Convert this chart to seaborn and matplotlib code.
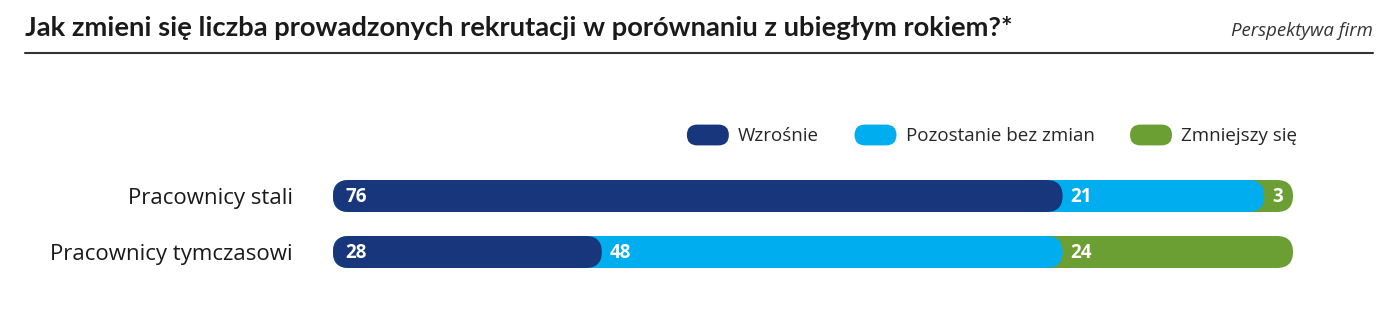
import matplotlib
matplotlib.use("Agg")
import matplotlib.pyplot as plt
from matplotlib.patches import FancyBboxPatch, Patch
from matplotlib.legend_handler import HandlerPatch
from matplotlib.lines import Line2D
import seaborn as sns
import pandas as pd

# data
categories = ["Pracownicy stali", "Pracownicy tymczasowi"]
series = ["Wzrośnie", "Pozostanie bez zmian", "Zmniejszy się"]
wzrosnie = [76, 28]
bez_zmian = [21, 48]
zmniejszy = [3, 24]
colors = ["#17367c", "#00aeef", "#6b9e33"]

title = "Jak zmieni się liczba prowadzonych rekrutacji w porównaniu z ubiegłym rokiem?*"
subtitle = "Perspektywa firm"

W, H, DPI = 13.98, 3.11, 100
FONT = ["Open Sans", "DejaVu Sans"]

sns.set_theme(style="white")
plt.rcParams["font.family"] = FONT

rows = []
for i, cat in enumerate(categories):
    vals = [wzrosnie[i], bez_zmian[i], zmniejszy[i]]
    cum = 0
    for s, v in zip(series, vals):
        rows.append({"kategoria": cat, "seria": s, "wartosc": v, "start": cum, "koniec": cum + v})
        cum += v
df = pd.DataFrame(rows)

fig = plt.figure(figsize=(W, H), dpi=DPI)
# axes geometry in pixels: x 333..1293, y 168..280 (from top)
ax = fig.add_axes([333 / 1398, (311 - 280) / 311, 960 / 1398, 112 / 311])

bar_h = 32 / 56
# draw cumulative bars from the back (last series) to the front
for s, c in reversed(list(zip(series, colors))):
    sub = df[df["seria"] == s]
    sns.barplot(data=sub, x="koniec", y="kategoria", order=categories, color=c,
                saturation=1, width=bar_h, linewidth=0, orient="h", ax=ax)

ax.set_xlim(0, 100)
ax.set_ylim(1.5, -0.5)

# rounded ends
px_per_x = 960 / 100
px_per_y = 56
r_x = 16 / px_per_x
aspect = (16 / px_per_y) / r_x
old = list(ax.patches)
for p in old:
    x, y = p.get_x(), p.get_y()
    w, h = p.get_width(), p.get_height()
    fc = p.get_facecolor()
    z = p.get_zorder()
    p.remove()
    ax.add_patch(FancyBboxPatch((x, y), w, h,
                                boxstyle=f"round,pad=0,rounding_size={r_x}",
                                mutation_aspect=aspect, fc=fc, ec="none", zorder=z))

# value labels
for _, r in df.iterrows():
    yi = categories.index(r["kategoria"])
    x0 = r["start"] + (12 / px_per_x if r["start"] == 0 else 8 / px_per_x)
    ax.text(x0, yi + 0.02, f"{r['wartosc']}", color="white", fontsize=13.5, fontweight="bold",
            va="center", ha="left", zorder=10)

ax.set_xlabel("")
ax.set_ylabel("")
ax.set_xticks([])
ax.set_yticks(range(len(categories)))
ax.set_yticklabels(categories, fontsize=16, color="#1a1a1a")
ax.tick_params(axis="y", length=0, pad=29)
for sp in ax.spines.values():
    sp.set_visible(False)


class RoundHandler(HandlerPatch):
    def create_artists(self, legend, orig_handle, xdescent, ydescent, width, height, fontsize, trans):
        p = FancyBboxPatch((-xdescent, -ydescent), width, height,
                           boxstyle=f"round,pad=0,rounding_size={height / 2}",
                           fc=orig_handle.get_facecolor(), ec="none", transform=trans)
        return [p]


handles = [Patch(facecolor=c, label=s) for s, c in zip(series, colors)]
fig.legend(handles=handles, handler_map={Patch: RoundHandler()}, ncol=3,
           loc="center right", bbox_to_anchor=(1297 / 1398, 1 - 135 / 311),
           frameon=False, fontsize=13.5, handlelength=2.24, handleheight=1.33,
           handletextpad=0.48, columnspacing=1.9, borderaxespad=0, borderpad=0)

# header
fig.text(25 / 1398, 1 - 28 / 311, title, fontsize=19.7, fontweight="bold",
         family=["Lato", "DejaVu Sans"], color="#1a1a1a",
         ha="left", va="center")
fig.text(1373 / 1398, 1 - 31 / 311, subtitle, fontsize=13.4, style="italic",
         color="#333333", ha="right", va="center")
fig.add_artist(Line2D([25 / 1398, 1373 / 1398], [1 - 53 / 311, 1 - 53 / 311],
                      transform=fig.transFigure, color="#333333", lw=1.5))

plt.savefig("out.png", dpi=DPI, facecolor="white")
